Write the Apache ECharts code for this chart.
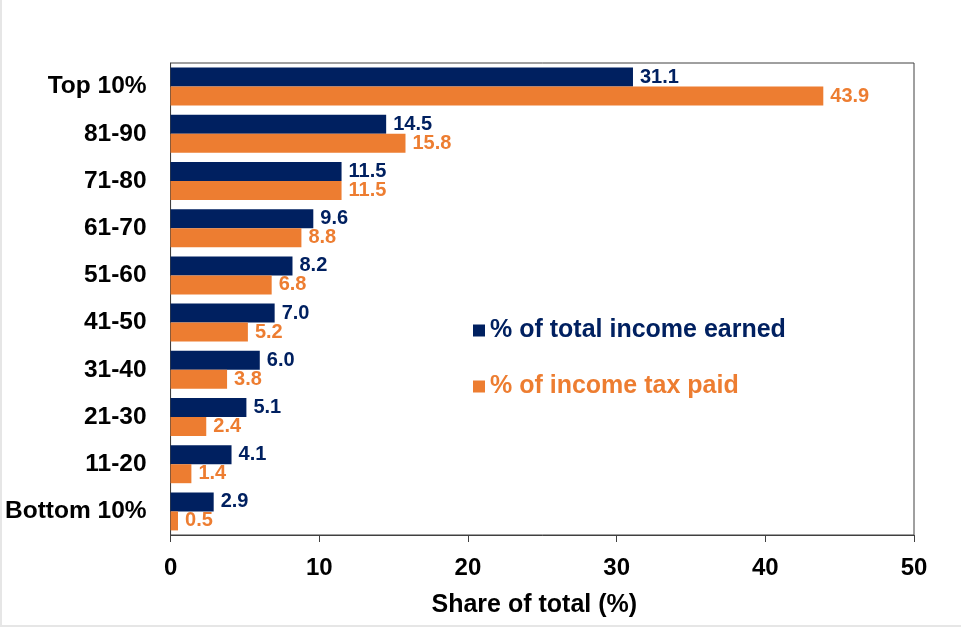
<!DOCTYPE html>
<html>
<head>
<meta charset="utf-8">
<script src="https://cdn.jsdelivr.net/npm/echarts@6/dist/echarts.min.js"></script>
<style>
    html, body { margin: 0; padding: 0; background: #fff; }
    #chart { width: 961px; height: 627px; box-sizing: border-box; border-left: 2px solid #e6e6e6; border-bottom: 2px solid #e6e6e6; }
</style>
</head>
<body>
<div id="chart"></div>
<script>
// 分组（从上到下）
const categories = ['Top 10%', '81-90', '71-80', '61-70', '51-60', '41-50', '31-40', '21-30', '11-20', 'Bottom 10%'];
// 收入占比
const incomeEarned = [31.1, 14.5, 11.5, 9.6, 8.2, 7.0, 6.0, 5.1, 4.1, 2.9];
// 所得税占比
const taxPaid = [43.9, 15.8, 11.5, 8.8, 6.8, 5.2, 3.8, 2.4, 1.4, 0.5];
const seriesNames = ['% of total income earned', '% of income tax paid'];
const xTicks = [0, 10, 20, 30, 40, 50];

const NAVY = '#002060';
const ORANGE = '#ED7D31';
const FONT = "'Liberation Sans', Arial, sans-serif";

const chart = echarts.init(document.getElementById('chart'));

function barSeries(name, data, color) {
    return {
        name: name,
        type: 'bar',
        data: data,
        barWidth: 19,
        barGap: '0%',
        itemStyle: { color: color },
        label: {
            show: true,
            position: 'right',
            distance: 7,
            color: color,
            fontFamily: FONT,
            fontWeight: 'bold',
            fontSize: 20,
            formatter: function (p) {
                return p.value.toFixed(1);
            }
        }
    };
}

const option = {
    animation: false,
    backgroundColor: '#fff',
    grid: {
        left: 168,
        top: 63,
        right: 47,
        bottom: 90,
        show: true,
        borderColor: '#404040',
        borderWidth: 1
    },
    legend: {
        orient: 'vertical',
        left: 466,
        top: 313,
        itemGap: 31,
        itemWidth: 12,
        itemHeight: 12,
        icon: 'rect',
        data: [
            { name: seriesNames[0], textStyle: { color: NAVY } },
            { name: seriesNames[1], textStyle: { color: ORANGE } }
        ],
        textStyle: {
            fontFamily: FONT,
            fontWeight: 'bold',
            fontSize: 25
        }
    },
    xAxis: {
        type: 'value',
        min: xTicks[0],
        max: xTicks[xTicks.length - 1],
        interval: 10,
        name: 'Share of total (%)',
        nameLocation: 'middle',
        nameGap: 58,
        nameTextStyle: {
            color: '#000',
            fontFamily: FONT,
            fontWeight: 'bold',
            fontSize: 25,
            padding: [0, 16, 0, 0]
        },
        axisLine: { show: true, lineStyle: { color: '#404040', width: 1 } },
        axisTick: { show: true, length: 7, lineStyle: { color: '#404040' } },
        splitLine: { show: false },
        axisLabel: {
            color: '#000',
            margin: 21,
            fontFamily: FONT,
            fontWeight: 'bold',
            fontSize: 24
        }
    },
    yAxis: {
        type: 'category',
        inverse: true,
        data: categories,
        axisLine: { show: true, lineStyle: { color: '#404040', width: 1 } },
        axisTick: { show: false },
        axisLabel: {
            color: '#000',
            margin: 24,
            fontFamily: FONT,
            fontWeight: 'bold',
            fontSize: 24.5
        }
    },
    series: [
        barSeries(seriesNames[0], incomeEarned, NAVY),
        barSeries(seriesNames[1], taxPaid, ORANGE)
    ]
};

chart.setOption(option);
</script>
</body>
</html>
